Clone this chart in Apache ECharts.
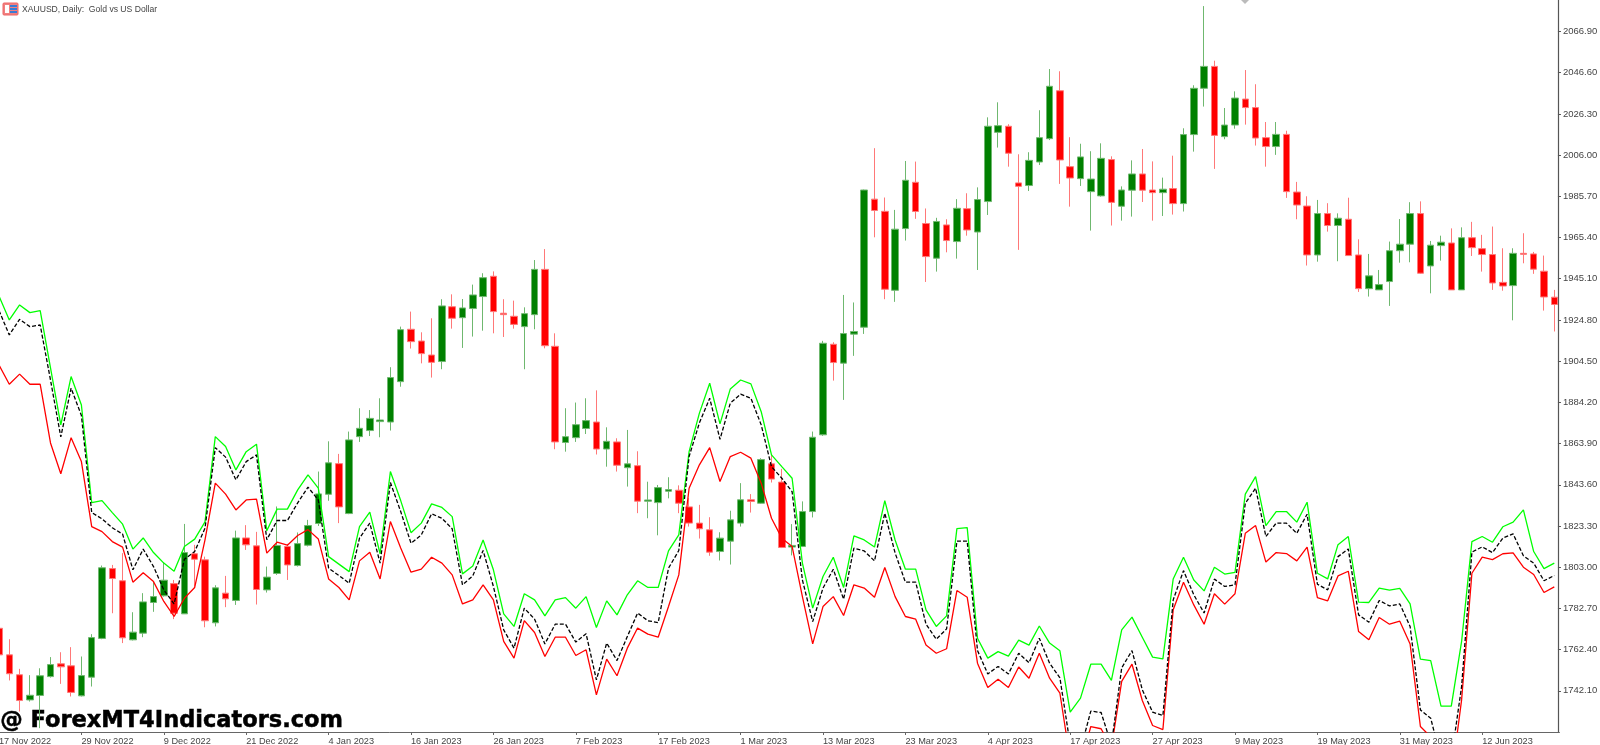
<!DOCTYPE html>
<html>
<head>
<meta charset="utf-8">
<style>html,body{margin:0;padding:0;background:#fff}#c{width:1600px;height:745px}</style>
<script src="https://cdn.jsdelivr.net/npm/echarts@6/dist/echarts.min.js"></script>
</head>
<body>
<div id="c"></div>
<script>
const tickLabels = ['17 Nov 2022','29 Nov 2022','9 Dec 2022','21 Dec 2022','4 Jan 2023','16 Jan 2023','26 Jan 2023','7 Feb 2023','17 Feb 2023','1 Mar 2023','13 Mar 2023','23 Mar 2023','4 Apr 2023','17 Apr 2023','27 Apr 2023','9 May 2023','19 May 2023','31 May 2023','12 Jun 2023'];
const priceTicks = [2066.9,2046.6,2026.3,2006.0,1985.7,1965.4,1945.1,1924.8,1904.5,1884.2,1863.9,1843.6,1823.3,1803.0,1782.7,1762.4,1742.1];
const opens = [1772.9,1759.8,1750,1737.6,1739.8,1749.1,1755.4,1754.4,1739.6,1748.8,
1767.9,1802.3,1796.3,1767.2,1770.5,1785.6,1788.9,1794.9,1780,1809.6,
1806.6,1775.6,1790.2,1786.6,1817.4,1813.5,1791.8,1799.9,1813.2,1803.8,
1813.8,1824.5,1838.9,1854,1829.4,1867.3,1870.3,1874.7,1874.5,1894.4,
1920.2,1914.4,1907.5,1904.3,1931.3,1925.9,1930.4,1936.3,1946.3,1928.1,
1926.6,1921.5,1927.4,1949.7,1911.8,1864.4,1866.8,1871.3,1874.5,1861.2,
1864.7,1852,1853,1835.5,1834.8,1840.4,1840.9,1832.7,1824.7,1821.4,
1810.7,1815.8,1824.7,1836.2,1834.5,1853.9,1844.9,1812.9,1813.2,1830.4,
1868.2,1912.8,1903.5,1917.8,1921.2,1984.3,1978.3,1939.4,1969.8,1992.6,
1972.3,1955.2,1971.6,1963.4,1979.6,1968.1,1983.1,2017.2,2020.2,1992.3,
1991,2002.6,2014.1,2037.7,2000.3,1994.4,1988,1985.9,2003.8,1980.8,
1988.7,1996.7,1988.8,1987.5,1989.5,1982.1,2016.1,2038.9,2049.7,2015.1,
2020.8,2033.6,2029.4,2014.6,2010.2,2016.2,1987.8,1980.9,1956.8,1977.2,
1971.3,1974.4,1956.8,1940.2,1939.6,1943.7,1958.9,1962.1,1977.2,1951.4,
1961.4,1962.7,1939.6,1965.3,1959.9,1957,1943.3,1941.7,1957.6,1957.3,
1948.8,1936];
const closes = [1759.8,1750.5,1737.3,1739.9,1749.5,1755,1753.9,1741.3,1749.6,1768.3,
1802.7,1797.4,1768.2,1771,1785.9,1788.5,1796.6,1780.3,1810.2,1806.9,
1776.6,1792.8,1787.4,1817.4,1814,1792,1798.1,1813.7,1804.1,1814.6,
1823.5,1839.1,1854.4,1832.7,1865.7,1871.4,1876.3,1875.5,1896.4,1920,
1914.1,1908.2,1903.9,1931.7,1925.6,1930.7,1937.1,1945.6,1928.9,1927.4,
1922.6,1927.9,1949.7,1912.1,1864.7,1867.3,1873.2,1875.2,1861.2,1865,
1853.2,1853.9,1835.5,1836.1,1842.2,1841.2,1834.5,1824.7,1821.9,1810.4,
1817.3,1826.3,1836.2,1835.4,1856,1846.4,1812.7,1813.7,1830.4,1867,
1913.3,1903.8,1918.1,1919.1,1988.8,1978.7,1939.9,1969.5,1993.6,1978.2,
1956,1973.3,1963.9,1979.8,1969.1,1984.1,2020.2,2020.5,2006.9,1990.6,
2003.4,2014.6,2039.9,2003.6,1994.7,2005.1,1994.2,2004.4,1982.7,1988.8,
1996.7,1988.7,1987.5,1989.2,1982.1,2016.1,2038.9,2049.7,2015.7,2020.8,
2034.1,2029.4,2014.4,2010.2,2016.2,1988,1981.4,1956.8,1977.2,1971.3,
1974.9,1956.5,1940.2,1946.5,1942.2,1958.9,1962.1,1977.2,1947.8,1961.6,
1963.1,1939.6,1965.3,1960.4,1957,1943,1941.5,1957.6,1957.1,1949.8,
1936.1,1932.4];
const lows = [1759,1747.2,1731.9,1736.8,1723.7,1748.6,1745.5,1739.3,1739.3,1744.2,
1767.5,1780.3,1765.6,1766.9,1768.5,1781,1788.5,1777.4,1780,1793.5,
1773.4,1773.8,1783.3,1784.4,1811.5,1784.6,1790.5,1799.2,1796.7,1803.3,
1813.2,1823.3,1835.7,1824.7,1829.1,1864.7,1867.6,1867,1870.3,1891.9,
1910.7,1903.4,1896.4,1900.5,1920.5,1911,1916.6,1919.5,1918.2,1916.4,
1920.5,1900.5,1920.2,1910.8,1861.1,1859.9,1864.7,1868.6,1858.5,1852.5,
1850.1,1842.7,1829.6,1827.1,1818.7,1836.9,1829.6,1823,1817.1,1808.6,
1806.3,1804.3,1823,1829.9,1834.2,1844.7,1812.4,1808.8,1812.9,1827.5,
1867.7,1894.9,1885.4,1907.1,1917.9,1965.5,1935,1933.7,1963.9,1974.6,
1943.5,1948.6,1958.1,1955,1966.3,1949.4,1976.5,2009.7,2000.3,1959.3,
1988.3,2001.1,2013.4,1991.8,1980.6,1990.8,1968.8,1985.5,1971.3,1973.7,
1975.7,1982.9,1973.7,1976,1976.7,1978.2,2007.7,2029.9,1999.2,2013.8,
2019,2021,2010.7,2000.3,2006.1,1984.9,1974.4,1951.6,1953.5,1968.3,
1953.7,1956.5,1938.6,1936.3,1939.6,1931.7,1953,1953.2,1947.5,1937.9,
1954,1939.6,1939.6,1956.3,1948.6,1939.6,1939.2,1924.6,1952.7,1947.5,
1929.4,1919.1];
const highs = [1773.5,1767.5,1752.9,1749.8,1753.2,1758.7,1761.1,1763.6,1759,1770,
1803.8,1804.1,1809.9,1780.8,1790.2,1795.9,1805.4,1796.7,1824.3,1814,
1808.2,1794.1,1798.7,1821,1823.7,1820.4,1803.3,1832.9,1814.5,1820.1,
1826.3,1850.1,1865,1858.8,1869.8,1881.3,1880.4,1886.2,1901.5,1921.5,
1928.9,1918.7,1925.6,1935,1937.4,1935.1,1942.2,1947.8,1948.7,1935,
1934.3,1931,1954.3,1959.7,1918.2,1881.3,1884.1,1886.2,1890.1,1871.9,
1866.5,1870.6,1860.1,1845.1,1843.5,1847.3,1843.3,1837,1833.7,1827.6,
1820.2,1830.8,1844.4,1839,1856.7,1858.3,1851.4,1824.2,1835.4,1869.8,
1914.5,1913.8,1937.1,1933.4,1989,2009.4,1985.1,1979,2003.1,2002.8,
1979.7,1975.1,1974.4,1984.3,1987.2,1990.1,2024.6,2032,2021.2,2006.4,
2007.4,2028.1,2048.4,2047.3,2014.8,2011.6,2007.9,2011.8,2005.4,1990.6,
2003.4,2009,2002.9,1994.9,2005.7,2019.2,2040.4,2079.4,2052.5,2029.2,
2037.4,2047.9,2040.9,2022.3,2022.3,2018,1992.8,1985.7,1983.9,1982.3,
1977.3,1985,1964.5,1957.3,1949.4,1963.4,1974.5,1982.8,1983.2,1963.7,
1966.3,1969.9,1970.4,1973.1,1966.7,1970.8,1960.1,1960.1,1967.5,1958.3,
1956.5,1939.6];
const upperBand = [1936.6,1924.8,1932.2,1928.4,1929.4,1901.2,1873.1,1896.9,1882.9,1834.8,
1835.8,1829.9,1824.2,1811.9,1817.4,1810.2,1805,1801,1813.2,1816.8,
1825.3,1867.3,1862.4,1850.9,1859.9,1863.6,1820.9,1831.6,1831.6,1841.1,
1848.5,1841.9,1808.2,1804.5,1800.8,1823,1830.1,1809.6,1850.1,1835.8,
1820,1824.7,1834.2,1832.4,1827.9,1799.7,1803.6,1816.4,1801.7,1780,
1773.8,1789.9,1786.9,1779,1786.9,1788,1782.8,1788.5,1773.3,1786.4,
1779.5,1789.4,1796.3,1793,1793,1811,1818.9,1859.9,1878.9,1893.6,
1873.6,1890.8,1895.2,1893.3,1879.6,1858.3,1852.5,1846.8,1805,1782.8,
1798.4,1807.9,1793,1818.4,1816.4,1812.9,1835.8,1816.4,1802,1802,
1782,1773.8,1779,1822,1822.5,1768,1758.2,1761.4,1759.2,1767.1,
1764.6,1774,1765.6,1761.8,1731.6,1738.5,1755.2,1755.2,1747.2,1772.1,
1778.4,1768.5,1758.7,1757.8,1797.2,1807.9,1796.7,1791.3,1803,1799.6,
1800.4,1839,1847.6,1823.5,1830.4,1830.4,1825.2,1835,1800,1797.2,
1814.1,1818.1,1785.8,1785.6,1792.7,1791.7,1792.5,1784.9,1757.7,1757,
1734.5,1734.5,1766.4,1815.6,1818.1,1815.3,1822.9,1825.2,1831.2,1810.7,
1802.3,1805];
const middleBand = [1929.4,1917.4,1925.1,1921.5,1922.3,1895.2,1867.2,1891.2,1877.7,1829.9,
1826.8,1822.4,1819.3,1801.7,1811.9,1803.3,1791.8,1784.9,1806.9,1810.7,
1822.2,1861.9,1857.2,1846,1855,1858.3,1816.5,1826,1826,1834.7,
1842.4,1836.1,1802.5,1798.9,1795.1,1817.3,1824.7,1805,1844.7,1830.4,
1814.8,1818.9,1829.3,1827.1,1821.9,1794.3,1798.7,1811.2,1793.5,1772.1,
1763.1,1782.8,1777.4,1765.2,1774.9,1774.9,1766.1,1770.2,1747.5,1765.6,
1757,1768.8,1780.4,1776.6,1775.7,1802.5,1811.2,1857.5,1874.1,1886.2,
1866,1883.8,1888.2,1886.2,1873.1,1852.5,1846.8,1840.2,1796.7,1776.2,
1792.7,1802,1787.2,1812.4,1811,1806.1,1829.6,1810,1795.6,1795.6,
1774.9,1767.5,1772.6,1815.8,1815.8,1761.9,1750.4,1754.1,1750.4,1760.6,
1755.9,1768,1755.7,1748.5,1715.5,1713,1732.1,1731.4,1715.5,1753.4,
1761.9,1742.6,1731.6,1729.9,1786.9,1801.3,1789.4,1780.4,1797.1,1793.5,
1794.3,1834.5,1841.9,1818.1,1824.7,1824.7,1819.7,1829.1,1794.6,1791.8,
1808.2,1812,1779.5,1775.9,1786.6,1783.9,1784.9,1773.8,1732.7,1728.6,
1708.6,1708.6,1744.2,1810.4,1813,1810.2,1817.3,1819.4,1808.6,1805,
1796.3,1798.9];
const lowerBand = [1902.6,1893.1,1898.1,1893.1,1893.1,1864.2,1849,1866.8,1855,1823,
1820.5,1815.6,1812.9,1795.6,1800.3,1795.9,1786.1,1778.7,1787.7,1793,
1816.5,1844.4,1839,1831.2,1836.1,1836.5,1809.9,1815.3,1813.8,1818.6,
1821.5,1816.9,1797.2,1793,1786.9,1806.1,1810.4,1797.2,1825.5,1812.4,
1800.5,1802,1807.9,1805,1799.2,1784.9,1786.9,1794.3,1786.9,1766.4,
1758.2,1776.7,1770.8,1759,1768.5,1768.5,1759.5,1762.3,1740.1,1757.7,
1749.5,1763.1,1773,1770,1768.5,1783.6,1799.2,1841.9,1853.4,1861.9,
1845.2,1857.5,1859.6,1856.7,1844.4,1827.1,1817.3,1813.2,1788.5,1765.2,
1783.6,1788.5,1779.2,1794.3,1792.7,1788.2,1802.8,1788.5,1778.7,1777.4,
1764.7,1760.6,1762.8,1791.5,1788.2,1755.7,1743.7,1747.8,1743.7,1753.8,
1748.3,1760.6,1748.3,1740.9,1708.1,1705.6,1724.5,1723.4,1714,1746.7,
1755.2,1737.3,1725,1723,1782,1795.6,1784.4,1774.9,1789.9,1784.8,
1789.9,1819.7,1823.5,1805.5,1810.2,1809.7,1806.1,1812.9,1788,1786.4,
1798.7,1801,1771.3,1767.2,1778.2,1774.9,1776.4,1765.1,1724.5,1719.4,
1698.7,1698.7,1737.6,1800,1807.9,1806.7,1809.6,1810,1803,1799.4,
1790.5,1793.3];

const categories = opens.map((_, i) => (i % 8 === 0 ? tickLabels[i / 8] : ''));
const candleData = opens.map((o, i) => [o, closes[i], lows[i], highs[i]]);
const everyEighth = i => i % 8 === 0;

const chart = echarts.init(document.getElementById('c'), null, {renderer: 'canvas'});
chart.setOption({
  animation: false,
  backgroundColor: '#fff',
  grid: {left: -6.15, top: 0, width: 1565.6, height: 732, containLabel: false, outerBoundsMode: 'none'},
  xAxis: {
    type: 'category', data: categories, boundaryGap: true,
    axisLine: {lineStyle: {color: '#666', width: 1}},
    axisTick: {show: true, alignWithLabel: true, interval: everyEighth, length: 3, lineStyle: {color: '#666'}},
    axisLabel: {color: '#444', fontFamily: 'Liberation Sans', fontSize: 9.2, align: 'left', margin: 5, interval: everyEighth, hideOverlap: false},
    splitLine: {show: false}
  },
  yAxis: {
    type: 'value', position: 'right', offset: -1.5, min: 1721.8, max: 2082.4, scale: true,
    axisLine: {show: true, lineStyle: {color: '#555', width: 1.2}},
    axisTick: {show: true, customValues: priceTicks, length: 3, lineStyle: {color: '#555'}},
    axisLabel: {color: '#444', fontFamily: 'Liberation Sans', fontSize: 9.5, customValues: priceTicks, margin: 5, padding: [4, 0, 0, 0], formatter: v => v.toFixed(2)},
    splitLine: {show: false}
  },
  graphic: [
    {type: 'text', left: 0, top: 709, z: 0, style: {text: '@ ForexMT4Indicators.com', fill: '#000', stroke: '#000', lineWidth: 0.5, font: 'bold 22.5px "DejaVu Sans"'}},
    {type: 'text', left: 22, top: 5, z: 0, style: {text: 'XAUUSD, Daily:  Gold vs US Dollar', fill: '#444', font: '8.6px "Liberation Sans"'}},
    {type: 'rect', shape: {x: 3, y: 3, width: 15, height: 12, r: 1}, style: {fill: '#f08080', stroke: '#e66', lineWidth: 1}},
    {type: 'rect', shape: {x: 5, y: 5, width: 4, height: 8}, style: {fill: '#fff'}},
    {type: 'rect', shape: {x: 10, y: 5, width: 7, height: 2}, style: {fill: '#3a7bd5'}},
    {type: 'rect', shape: {x: 10, y: 8, width: 7, height: 2}, style: {fill: '#3a7bd5'}},
    {type: 'rect', shape: {x: 10, y: 11, width: 7, height: 2}, style: {fill: '#3a7bd5'}},
    {type: 'polygon', shape: {points: [[1241, 0], [1249, 0], [1245, 4]]}, style: {fill: '#bbb'}}
  ],
  series: [
    {type: 'candlestick', data: candleData, barWidth: 7,
     itemStyle: {color: '#008000', color0: '#ff0000', borderColor: '#6fb86f', borderColor0: '#ff7878', borderWidth: 1}},
    {type: 'line', data: upperBand, showSymbol: false, symbol: 'none', lineStyle: {color: '#00ff00', width: 1.3}, z: 3},
    {type: 'line', data: lowerBand, showSymbol: false, symbol: 'none', lineStyle: {color: '#ff0000', width: 1.3}, z: 3},
    {type: 'line', data: middleBand, showSymbol: false, symbol: 'none', lineStyle: {color: '#000', width: 1.3, type: [4, 2]}, z: 4}
  ]
});
</script>
</body>
</html>
